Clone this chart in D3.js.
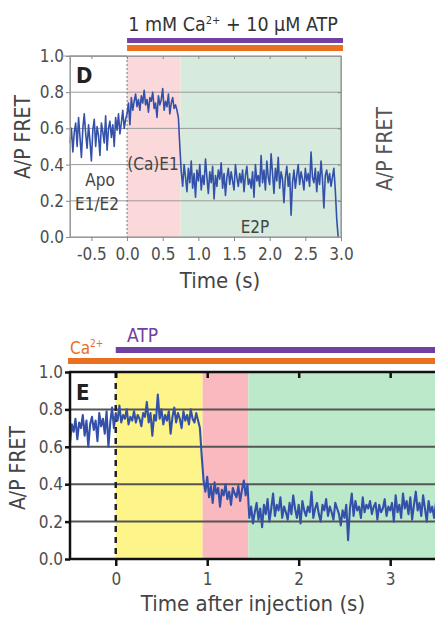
<!DOCTYPE html>
<html>
<head>
<meta charset="utf-8">
<script src="https://cdn.jsdelivr.net/npm/d3@7"></script>
<style>
  body { margin: 0; background: #fff; }
  svg { display: block; }
  text { font-family: "Liberation Sans Narrow", "DejaVu Sans Condensed", "Liberation Sans", sans-serif; }
</style>
</head>
<body>
<div id="chart"></div>
<script>
// panel D trace, sampled every 20 ms from -0.8 s
var dStart = -0.8, dStep = 0.02;
var dApo = [0.52,0.6,0.47,0.58,0.63,0.5,0.66,0.55,0.44,0.6,0.68,0.57,0.49,0.62,0.53,0.42,0.59,0.65,0.5,0.61,
            0.56,0.45,0.63,0.58,0.52,0.67,0.48,0.6,0.64,0.55,0.62,0.5,0.66,0.59,0.68,0.57,0.63,0.7,0.6,0.65];
var dCaE1 = [0.68,0.74,0.62,0.77,0.7,0.75,0.79,0.72,0.76,0.7,0.78,0.74,0.81,0.73,0.76,0.69,0.77,0.75,0.8,0.71,
             0.74,0.66,0.78,0.73,0.76,0.82,0.7,0.75,0.72,0.79,0.68,0.74,0.77,0.71,0.73,0.7,0.66,0.5];
var dE2P = [0.36,0.28,0.4,0.33,0.25,0.38,0.3,0.42,0.27,0.35,0.22,0.37,0.31,0.4,0.26,0.34,0.29,0.43,0.33,0.24,
            0.36,0.3,0.39,0.21,0.34,0.28,0.37,0.32,0.41,0.27,0.35,0.23,0.33,0.38,0.29,0.36,0.31,0.26,0.4,0.33,
            0.28,0.35,0.3,0.37,0.25,0.34,0.39,0.29,0.32,0.27,0.36,0.22,0.4,0.31,0.34,0.28,0.45,0.3,0.37,0.26,
            0.42,0.33,0.29,0.46,0.35,0.24,0.38,0.31,0.44,0.27,0.36,0.32,0.19,0.33,0.39,0.28,0.35,0.12,0.3,0.37,
            0.27,0.34,0.4,0.29,0.36,0.32,0.26,0.38,0.31,0.35,0.28,0.47,0.33,0.3,0.38,0.25,0.36,0.29,0.42,0.32,
            0.16,0.34,0.37,0.3,0.35,0.28,0.33,0.38,0.26,0.1,0.0];

// panel E trace, sampled every 20 ms from -0.5 s
var eStart = -0.5, eStep = 0.02;
var ePre = [0.62,0.72,0.68,0.75,0.64,0.73,0.7,0.77,0.66,0.74,0.6,0.72,0.76,0.69,0.74,0.63,0.78,0.71,0.75,0.67,
            0.79,0.6,0.73,0.81,0.7];
var eYellow = [0.78,0.74,0.82,0.73,0.77,0.75,0.8,0.72,0.76,0.74,0.79,0.73,0.77,0.75,0.71,0.78,0.76,0.84,0.73,0.78,
               0.66,0.77,0.74,0.88,0.75,0.8,0.72,0.77,0.74,0.79,0.67,0.76,0.81,0.73,0.78,0.75,0.7,0.79,0.74,0.77,
               0.72,0.8,0.75,0.73,0.78,0.74,0.7,0.55,0.42];
var ePink = [0.36,0.44,0.33,0.39,0.3,0.41,0.35,0.38,0.28,0.37,0.34,0.4,0.32,0.36,0.29,0.38,0.35,0.33,0.39,0.31,
             0.37,0.42,0.34,0.4];
var eGreen = [0.22,0.28,0.19,0.25,0.3,0.21,0.27,0.17,0.29,0.24,0.32,0.2,0.27,0.35,0.23,0.29,0.26,0.33,0.22,0.28,
              0.25,0.21,0.3,0.24,0.34,0.27,0.22,0.29,0.19,0.31,0.26,0.23,0.28,0.25,0.36,0.22,0.27,0.3,0.24,0.2,
              0.29,0.26,0.32,0.23,0.28,0.25,0.21,0.3,0.27,0.24,0.18,0.26,0.22,0.29,0.1,0.27,0.35,0.23,0.31,0.26,
              0.28,0.22,0.33,0.25,0.29,0.27,0.31,0.24,0.28,0.3,0.21,0.29,0.25,0.27,0.32,0.23,0.28,0.26,0.3,0.2,
              0.34,0.25,0.29,0.22,0.35,0.27,0.31,0.24,0.33,0.21,0.29,0.36,0.26,0.3,0.23,0.34,0.27,0.2,0.31,0.25,
              0.28,0.22,0.3,0.26,0.24];

// shaded state intervals (s)
var dStates = [{ name: "(Ca)E1", x0: 0, x1: 0.75, color: "#fbd8da" },
               { name: "E2P", x0: 0.75, x1: 3.0, color: "#d6ebdd" }];
var eStates = [{ name: "E1", x0: 0, x1: 0.95, color: "#fdf48a" },
               { name: "E1P", x0: 0.95, x1: 1.45, color: "#f9b9be" },
               { name: "E2P", x0: 1.45, x1: 3.6, color: "#bde9cb" }];

var dXTicks = [-0.5, 0, 0.5, 1, 1.5, 2, 2.5, 3];
var eXTicks = [0, 1, 2, 3];
var yTicks = [0, 0.2, 0.4, 0.6, 0.8, 1.0];
var gridVals = [0.2, 0.4, 0.6, 0.8];

var traceColor = "#3451a9",
    purple = "#7040a3",
    orange = "#e8701e";

function toPoints(vals, t0, dt) {
  return vals.map(function(v, i) { return { t: t0 + i * dt, v: v }; });
}

var dData = toPoints(dApo.concat(dCaE1, dE2P), dStart, dStep);
var eData = toPoints(ePre.concat(eYellow, ePink, eGreen), eStart, eStep);

var svg = d3.select("#chart").append("svg")
    .attr("width", 435)
    .attr("height", 617);

// plain hyphen instead of the unicode minus, like the figure
var fmt = function(d) { return d3.format(".1f")(d).replace("\u2212", "-"); };

// ---------------- panel D ----------------
var xD = d3.scaleLinear().domain([-0.8, 3.0]).range([70, 341]);
var yD = d3.scaleLinear().domain([0, 1]).range([237, 56]);

var gD = svg.append("g");

gD.selectAll(".dstate")
    .data(dStates)
    .enter().append("rect")
      .attr("x", function(d) { return xD(d.x0); })
      .attr("y", yD(1))
      .attr("width", function(d) { return xD(d.x1) - xD(d.x0); })
      .attr("height", yD(0) - yD(1))
      .style("fill", function(d) { return d.color; });

gD.selectAll(".dgrid")
    .data(gridVals)
    .enter().append("line")
      .attr("x1", xD.range()[0])
      .attr("x2", xD.range()[1])
      .attr("y1", function(d) { return yD(d); })
      .attr("y2", function(d) { return yD(d); })
      .style("stroke", "#9a9a9a")
      .style("stroke-width", 1);

gD.append("line")
    .attr("x1", xD(0)).attr("x2", xD(0))
    .attr("y1", yD(1)).attr("y2", yD(0))
    .style("stroke", "#777")
    .style("stroke-width", 1)
    .style("stroke-dasharray", "2,2");

gD.append("path")
    .datum(dData)
    .attr("fill", "none")
    .attr("stroke", traceColor)
    .attr("stroke-width", 1.6)
    .attr("stroke-linejoin", "round")
    .attr("d", d3.line().x(function(d) { return xD(d.t); }).y(function(d) { return yD(d.v); }));

gD.append("rect")
    .attr("x", xD.range()[0])
    .attr("y", yD(1))
    .attr("width", xD.range()[1] - xD.range()[0])
    .attr("height", yD(0) - yD(1))
    .style("fill", "none")
    .style("stroke", "#9a9a9a")
    .style("stroke-width", 1.2);

var dAxisB = gD.append("g")
    .attr("transform", "translate(0," + yD(0) + ")")
    .call(d3.axisBottom(xD).tickValues(dXTicks).tickFormat(fmt).tickSize(4).tickSizeOuter(0));
var dAxisT = gD.append("g")
    .attr("transform", "translate(0," + yD(1) + ")")
    .call(d3.axisBottom(xD).tickValues(dXTicks).tickFormat("").tickSize(3).tickSizeOuter(0));
var dAxisL = gD.append("g")
    .attr("transform", "translate(" + xD.range()[0] + ",0)")
    .call(d3.axisLeft(yD).tickValues(yTicks).tickFormat(fmt).tickSize(4).tickSizeOuter(0));
var dAxisR = gD.append("g")
    .attr("transform", "translate(" + xD.range()[1] + ",0)")
    .call(d3.axisLeft(yD).tickValues(gridVals).tickFormat("").tickSize(3).tickSizeOuter(0));

[dAxisB, dAxisT, dAxisL, dAxisR].forEach(function(a) {
  a.select(".domain").style("stroke", "#9a9a9a");
  a.selectAll(".tick line").style("stroke", "#888");
  a.selectAll(".tick text").style("font-size", "17px").style("fill", "#4d4d4d");
});
dAxisB.selectAll(".tick text").attr("dy", "0.95em");
dAxisL.selectAll(".tick text").attr("x", -6);
// top frame line runs on to the left like the original
gD.append("line")
    .attr("x1", 62).attr("x2", xD(0))
    .attr("y1", yD(1)).attr("y2", yD(1))
    .style("stroke", "#9a9a9a");

gD.append("rect").attr("x", xD(0)).attr("y", 38).attr("width", 343 - xD(0)).attr("height", 5).style("fill", purple);
gD.append("rect").attr("x", xD(0)).attr("y", 45).attr("width", 343 - xD(0)).attr("height", 6).style("fill", orange);

var dTitle = gD.append("text")
    .attr("x", 233).attr("y", 31)
    .attr("text-anchor", "middle")
    .style("font-size", "19.5px")
    .style("fill", "#333");
dTitle.append("tspan").text("1 mM Ca");
dTitle.append("tspan").attr("dy", -7).style("font-size", "11px").text("2+");
dTitle.append("tspan").attr("dy", 7).text(" + 10 \u00b5M ATP");

gD.append("text").attr("x", 76).attr("y", 83).style("font-size", "22px").style("font-weight", "bold").style("fill", "#222").text("D");
gD.append("text").attr("x", 100).attr("y", 186).attr("text-anchor", "middle").style("font-size", "17px").style("fill", "#444").text("Apo");
gD.append("text").attr("x", 97).attr("y", 210).attr("text-anchor", "middle").style("font-size", "17px").style("fill", "#444").text("E1/E2");
gD.append("text").attr("x", 153).attr("y", 170).attr("text-anchor", "middle").style("font-size", "17px").style("fill", "#444").text("(Ca)E1");
gD.append("text").attr("x", 255).attr("y", 233).attr("text-anchor", "middle").style("font-size", "17px").style("fill", "#444").text("E2P");

gD.append("text")
    .attr("transform", "translate(30,137) rotate(-90)")
    .attr("text-anchor", "middle")
    .style("font-size", "21px").style("fill", "#444")
    .text("A/P FRET");
gD.append("text")
    .attr("x", 220).attr("y", 288)
    .attr("text-anchor", "middle")
    .style("font-size", "22px").style("fill", "#444")
    .text("Time (s)");

// label of the neighbouring panel that is cut off
svg.append("text")
    .attr("transform", "translate(392,149) rotate(-90)")
    .attr("text-anchor", "middle")
    .style("font-size", "21px").style("fill", "#555")
    .text("A/P FRET");

// ---------------- panel E ----------------
var xE = d3.scaleLinear().domain([-0.5, 3.55]).range([70, 440.5]);
var yE = d3.scaleLinear().domain([0, 1]).range([559, 372]);

var gE = svg.append("g");

svg.append("clipPath").attr("id", "clipE")
  .append("rect")
    .attr("x", xE.range()[0]).attr("y", yE(1))
    .attr("width", xE.range()[1] - xE.range()[0])
    .attr("height", yE(0) - yE(1));

gE.selectAll(".estate")
    .data(eStates)
    .enter().append("rect")
      .attr("clip-path", "url(#clipE)")
      .attr("x", function(d) { return xE(d.x0); })
      .attr("y", yE(1))
      .attr("width", function(d) { return xE(d.x1) - xE(d.x0); })
      .attr("height", yE(0) - yE(1))
      .style("fill", function(d) { return d.color; });

gE.selectAll(".egrid")
    .data(gridVals)
    .enter().append("line")
      .attr("x1", xE.range()[0])
      .attr("x2", xE.range()[1])
      .attr("y1", function(d) { return yE(d); })
      .attr("y2", function(d) { return yE(d); })
      .style("stroke", "#555")
      .style("stroke-width", 2);

gE.append("line")
    .attr("x1", xE(0)).attr("x2", xE(0))
    .attr("y1", yE(1)).attr("y2", yE(0))
    .style("stroke", "#222")
    .style("stroke-width", 2.5)
    .style("stroke-dasharray", "6,5");

gE.append("path")
    .datum(eData)
    .attr("clip-path", "url(#clipE)")
    .attr("fill", "none")
    .attr("stroke", traceColor)
    .attr("stroke-width", 2.1)
    .attr("stroke-linejoin", "round")
    .attr("d", d3.line().x(function(d) { return xE(d.t); }).y(function(d) { return yE(d.v); }));

gE.append("rect")
    .attr("x", xE.range()[0])
    .attr("y", yE(1))
    .attr("width", xE.range()[1] - xE.range()[0])
    .attr("height", yE(0) - yE(1))
    .style("fill", "none")
    .style("stroke", "#111")
    .style("stroke-width", 2.5);

var eAxisB = gE.append("g")
    .attr("transform", "translate(0," + yE(0) + ")")
    .call(d3.axisBottom(xE).tickValues(eXTicks).tickFormat(d3.format("d")).tickSize(7).tickSizeOuter(0));
var eAxisT = gE.append("g")
    .attr("transform", "translate(0," + yE(1) + ")")
    .call(d3.axisBottom(xE).tickValues(eXTicks).tickFormat("").tickSize(6).tickSizeOuter(0));
var eAxisL = gE.append("g")
    .attr("transform", "translate(" + xE.range()[0] + ",0)")
    .call(d3.axisLeft(yE).tickValues(yTicks).tickFormat(fmt).tickSize(5).tickSizeOuter(0));

[eAxisB, eAxisT, eAxisL].forEach(function(a) {
  a.select(".domain").remove();
  a.selectAll(".tick line").style("stroke", "#111").style("stroke-width", 2.5);
  a.selectAll(".tick text").style("font-size", "17px").style("fill", "#4d4d4d");
});
eAxisB.selectAll(".tick text").attr("dy", "0.95em");
eAxisL.selectAll(".tick text").attr("x", -7);

gE.append("rect").attr("x", xE(0)).attr("y", 347).attr("width", 435 - xE(0)).attr("height", 6).style("fill", purple);
gE.append("rect").attr("x", 68).attr("y", 358).attr("width", 435 - 68).attr("height", 6).style("fill", orange);

var caLab = gE.append("text").attr("x", 70).attr("y", 354).style("font-size", "17px").style("fill", orange);
caLab.append("tspan").text("Ca");
caLab.append("tspan").attr("dy", -7).style("font-size", "10px").text("2+");
gE.append("text").attr("x", 127).attr("y", 342).style("font-size", "19px").style("fill", purple).text("ATP");

gE.append("text").attr("x", 76).attr("y", 400).style("font-size", "22px").style("font-weight", "bold").style("fill", "#222").text("E");

gE.append("text")
    .attr("transform", "translate(25,468) rotate(-90)")
    .attr("text-anchor", "middle")
    .style("font-size", "21px").style("fill", "#444")
    .text("A/P FRET");
gE.append("text")
    .attr("x", 253).attr("y", 611)
    .attr("text-anchor", "middle")
    .style("font-size", "22px").style("fill", "#444")
    .text("Time after injection (s)");
</script>
</body>
</html>
